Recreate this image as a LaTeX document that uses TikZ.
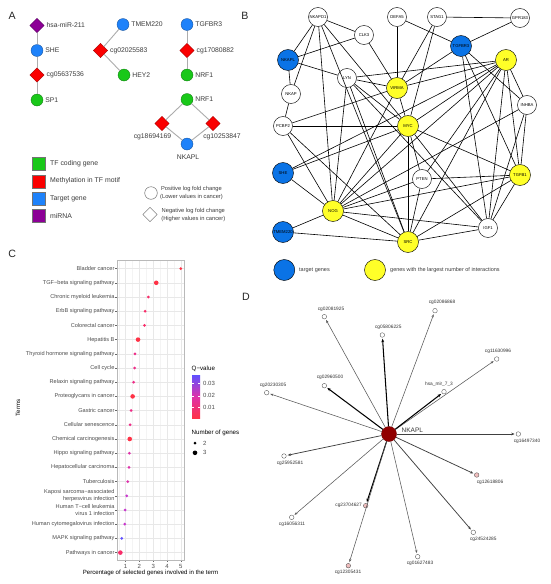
\documentclass[tikz,border=0pt]{standalone}
\usepackage{fontspec}
\setmainfont{Liberation Sans}
\usetikzlibrary{shapes.geometric,arrows.meta}
\definecolor{agreen}{RGB}{25,200,25}
\definecolor{ared}{RGB}{250,0,0}
\definecolor{ablue}{RGB}{30,130,250}
\definecolor{apurple}{RGB}{140,0,150}
\definecolor{bblue}{RGB}{10,115,230}
\definecolor{byellow}{RGB}{255,255,40}
\definecolor{dred}{RGB}{145,0,0}
\definecolor{dpink}{RGB}{240,190,190}
\definecolor{qA}{RGB}{255,50,70}
\definecolor{qB}{RGB}{248,45,105}
\definecolor{qC}{RGB}{238,45,135}
\definecolor{qD}{RGB}{222,50,170}
\definecolor{qE}{RGB}{200,55,205}
\definecolor{qF}{RGB}{95,80,255}
\definecolor{txt}{RGB}{60,60,60}
\tikzset{
  plet/.style={font=\fontsize{10.6}{12}\selectfont,text=black!85,inner sep=0pt},
  acirc/.style={circle,inner sep=0pt,minimum size=12pt,line width=0.3pt},
  adiam/.style={diamond,inner sep=0pt,minimum width=14.5pt,minimum height=14.5pt,fill=ared,draw=ared!65!black,line width=0.3pt},
  alab/.style={font=\fontsize{6.8}{8}\selectfont,inner sep=0.8pt,text=txt},
  aedge/.style={draw=gray!65,line width=0.9pt},
  asq/.style={rectangle,minimum size=13pt,inner sep=0pt,draw=black!55,line width=0.3pt},
  aleg/.style={font=\fontsize{6.9}{8}\selectfont,anchor=west,inner sep=0pt,text=txt},
  asmall/.style={font=\fontsize{5.75}{8}\selectfont,align=center,inner sep=0pt,text=txt},
  bw/.style={circle,draw=black,line width=0.45pt,fill=white,minimum size=19pt,inner sep=0pt,font=\fontsize{4.2}{4.2}\selectfont},
  bb/.style={bw,fill=bblue,minimum size=21pt},
  by/.style={bw,fill=byellow,minimum size=21pt},
  bedge/.style={draw=black,line width=0.6pt},
  bleg/.style={font=\fontsize{5.5}{6}\selectfont,anchor=west,inner sep=0pt,text=txt},
  ctext/.style={font=\fontsize{5.6}{7}\selectfont,anchor=east,inner sep=0pt,text=black!70,align=right},
  caxis/.style={font=\fontsize{6}{7}\selectfont,inner sep=0pt,text=black!70},
  ctitle/.style={font=\fontsize{6.1}{7}\selectfont,inner sep=0pt,text=black},
  ctick/.style={draw=black!60,line width=0.4pt},
  cgrid/.style={draw=gray!18,line width=0.5pt},
  cgridmin/.style={draw=gray!9,line width=0.3pt},
  cborder/.style={draw=gray!55,line width=0.5pt},
  dt/.style={circle,draw=gray!60!black,line width=0.35pt,fill=white,minimum size=4.6pt,inner sep=0pt},
  dp/.style={dt,fill=dpink},
  dlab/.style={font=\fontsize{4.8}{5}\selectfont,inner sep=0pt,text=black!80},
  dthin/.style={draw=gray!70!black,line width=0.55pt,-{Stealth[length=3.2pt,width=2.4pt]},shorten >=1.2pt},
  dmid/.style={draw=black!75,line width=0.75pt,-{Stealth[length=3.4pt,width=2.6pt]},shorten >=1.2pt},
  dthick/.style={draw=black,line width=1.05pt,-{Stealth[length=3.6pt,width=2.8pt]},shorten >=1.2pt},
}
\begin{document}
\begin{tikzpicture}[x=1pt,y=-1pt,label distance=1.2pt]
\useasboundingbox (0,0) rectangle (550,584);
\fill[white] (0,0) rectangle (550,584);

% panel letters
\node[plet] (pA) at (12.2,15.5) {A};
\node[plet] (pB) at (245,15.5) {B};
\node[plet] (pC) at (12.2,253.7) {C};
\node[plet] (pD) at (246,297.3) {D};

% ---------------- Panel A ----------------
\node[adiam,fill=apurple,draw=apurple!60!black,label={[alab]right:hsa-miR-211}] (mir) at (37,25.5) {};
\node[acirc,fill=ablue,draw=ablue!60!black,label={[alab]right:SHE}] (sheA) at (37,50.5) {};
\node[adiam,label={[alab]right:cg05637536}] (cgA) at (37,75) {};
\node[acirc,fill=agreen,draw=agreen!60!black,label={[alab]right:SP1}] (spA) at (37,100) {};
\draw[aedge] (mir) -- (sheA) -- (cgA) -- (spA);

\node[acirc,fill=ablue,draw=ablue!60!black,label={[alab]right:TMEM220}] (tmA) at (123,24.5) {};
\node[adiam,label={[alab]right:cg02025583}] (cgB) at (100.5,50.5) {};
\node[acirc,fill=agreen,draw=agreen!60!black,label={[alab]right:HEY2}] (heyA) at (124,75) {};
\draw[aedge] (tmA) -- (cgB) -- (heyA);

\node[acirc,fill=ablue,draw=ablue!60!black,label={[alab]right:TGFBR3}] (tgA) at (187,24.5) {};
\node[adiam,label={[alab]right:cg17080882}] (cgC) at (187,50.5) {};
\node[acirc,fill=agreen,draw=agreen!60!black,label={[alab]right:NRF1}] (nrA) at (187,75) {};
\draw[aedge] (tgA) -- (cgC) -- (nrA);

\node[acirc,fill=agreen,draw=agreen!60!black,label={[alab]right:NRF1}] (nrB) at (187,99.5) {};
\node[adiam] (cgD) at (162,123.5) {};
\node[adiam] (cgE) at (213,123.5) {};
\node[acirc,fill=ablue,draw=ablue!60!black] (nkA) at (187,144) {};
\node[alab] (cgDl) at (152.5,137) {cg18694169};
\node[alab] (cgEl) at (222,137) {cg10253847};
\node[alab] (nkAl) at (188,157.5) {NKAPL};
\draw[aedge] (nrB) -- (cgD) -- (nkA) -- (cgE) -- (nrB);

% legend A
\node[asq,fill=agreen] (lg1) at (38.4,163.7) {};
\node[asq,fill=ared] (lg2) at (38.4,181.2) {};
\node[asq,fill=ablue] (lg3) at (38.4,198.5) {};
\node[asq,fill=apurple] (lg4) at (38.4,215.5) {};
\node[aleg] (lt1) at (50,163.7) {TF coding gene};
\node[aleg] (lt2) at (50,181.2) {Methylation in TF motif};
\node[aleg] (lt3) at (50,198.5) {Target gene};
\node[aleg] (lt4) at (50,215.5) {miRNA};
\node[circle,draw=gray!70!black,line width=0.4pt,minimum size=12.6pt,inner sep=0pt] (lgc) at (151,193) {};
\node[diamond,draw=gray!70!black,line width=0.4pt,minimum width=14.5pt,minimum height=14.5pt,inner sep=0pt] (lgd) at (150,214.5) {};
\node[asmall] (ltc) at (191.5,192.7) {Positive log fold change\\(Lower values in cancer)};
\node[asmall] (ltd) at (193.3,215.3) {Negative log fold change\\(Higher values in cancer)};

% ---------------- Panel B ----------------
\node[bw] (b1) at (318,17) {NKAPD1};
\node[bw] (b2) at (364,35) {CLK3};
\node[bw] (b3) at (397,17) {DEFA5};
\node[bw] (b4) at (437,17) {STAG1};
\node[bw] (b5) at (520,18) {GPR183};
\node[bb] (b6) at (461,46) {TGFBR3};
\node[bb] (b7) at (288,60) {NKAPL};
\node[by] (b8) at (506,60) {AR};
\node[bw] (b9) at (347,78) {LYN};
\node[by] (b10) at (397,88) {VIRMA};
\node[bw] (b11) at (291,94) {NKAP};
\node[bw] (b12) at (527,105) {INHBA};
\node[bw] (b13) at (283,126) {PCBP2};
\node[by] (b14) at (408,126) {MYC};
\node[bb] (b15) at (283,173) {SHE};
\node[bw] (b16) at (422,179) {PTEN};
\node[by] (b17) at (520,175) {TGFB1};
\node[by] (b18) at (333,211) {NOG};
\node[bb] (b19) at (283,232) {TMEM220};
\node[bw] (b20) at (488,228) {IGF1};
\node[by] (b21) at (408,242) {SRC};
\foreach \a/\b in {1/2,1/7,1/11,1/18,1/21,1/14,2/7,2/10,3/10,3/6,4/5,4/10,4/14,5/6,
  6/10,6/12,6/20,6/17,7/9,7/11,11/13,9/8,9/10,9/18,9/21,9/14,9/20,
  8/10,8/14,8/18,8/21,8/16,8/20,8/17,8/12,8/15,13/10,13/14,13/18,13/21,
  10/14,10/18,14/17,14/20,14/16,14/18,14/21,14/15,15/18,19/18,19/21,
  18/16,18/17,18/20,18/21,18/12,16/17,16/21,17/21,17/12,17/20,20/21,12/20}
  \draw[bedge] (b\a) -- (b\b);
% legend B
\node[bb] (lb1) at (284.3,270) {};
\node[bleg] (lb1t) at (299,270) {target genes};
\node[by] (lb2) at (375,270) {};
\node[bleg] (lb2t) at (390,270) {genes with the largest number of interactions};

% ---------------- Panel C ----------------
\foreach \v in {0.5,1.5,2.5,3.5,4.5}{
  \pgfmathsetmacro\xx{111.8+13.8*\v}
  \draw[cgridmin] (\xx,260) -- (\xx,560);}
\foreach \v in {1,...,5}{
  \pgfmathsetmacro\xx{111.8+13.8*\v}
  \draw[cgrid] (\xx,260) -- (\xx,560);
  \draw[ctick] (\xx,560) -- (\xx,562.2);
  \node[caxis] (xt\v) at (\xx,566.3) {\v};}
\foreach \i/\lab/\v/\n/\c in {
  1/{Bladder cancer}/5.0/2/qA,
  2/{TGF−beta signaling pathway}/3.22/3/qA,
  3/{Chronic myeloid leukemia}/2.65/2/qB,
  4/{ErbB signaling pathway}/2.42/2/qB,
  5/{Colorectal cancer}/2.37/2/qB,
  6/{Hepatitis B}/1.9/3/qA,
  7/{Thyroid hormone signaling pathway}/1.68/2/qC,
  8/{Cell cycle}/1.65/2/qC,
  9/{Relaxin signaling pathway}/1.58/2/qC,
  10/{Proteoglycans in cancer}/1.51/3/qA,
  11/{Gastric cancer}/1.4/2/qC,
  12/{Cellular senescence}/1.33/2/qC,
  13/{Chemical carcinogenesis}/1.3/3/qA,
  14/{Hippo signaling pathway}/1.27/2/qD,
  15/{Hepatocellular carcinoma}/1.25/2/qD,
  16/{Tuberculosis}/1.15/2/qD,
  17/{Kaposi sarcoma−associated\\herpesvirus infection}/1.08/2/qE,
  18/{Human T−cell leukemia\\virus 1 infection}/0.96/2/qE,
  19/{Human cytomegalovirus infection}/0.94/2/qE,
  20/{MAPK signaling pathway}/0.72/2/qF,
  21/{Pathways in cancer}/0.62/3/qB}{
  \pgfmathsetmacro\yy{268.6+14.2*(\i-1)}
  \pgfmathsetmacro\xx{111.8+13.8*\v}
  \pgfmathsetmacro\rr{\n==2 ? 1.5 : 2.3}
  \draw[cgrid] (117.3,\yy) -- (183.8,\yy);
  \draw[ctick] (115.2,\yy) -- (117.3,\yy);
  \node[ctext] (tm\i) at (114.6,\yy) {\lab};
  \fill[\c] (\xx,\yy) circle[radius=\rr pt];}
\draw[cborder] (117.3,260) rectangle (183.8,560);
\node[ctitle] (cxt) at (150.5,573) {Percentage of selected genes involved in the term};
\node[ctitle,rotate=90] (cyt) at (18,408) {Terms};
% legend C
\node[ctitle,anchor=west,font=\fontsize{6.2}{7}\selectfont] (qv) at (191.5,369) {Q−value};
\shade[top color=qF,bottom color=qA,middle color=qD] (192,375) rectangle (200,418);
\foreach \q/\y in {0.03/383.3,0.02/395.7,0.01/407.3}{
  \draw[white,line width=0.4pt] (192,\y) -- (193.6,\y) (198.4,\y) -- (200,\y);
  \node[caxis,anchor=west] (q\y) at (203,\y) {\q};}
\node[ctitle,anchor=west,font=\fontsize{6.2}{7}\selectfont] (ng) at (191.5,433) {Number of genes};
\fill[black] (195,443) circle[radius=1.5pt];
\fill[black] (195,452.8) circle[radius=2.3pt];
\node[caxis,anchor=west] (ng2) at (203,443) {2};
\node[caxis,anchor=west] (ng3) at (203,452.8) {3};

% ---------------- Panel D ----------------
\node[circle,fill=dred,draw=dred!80!black,minimum size=15pt,inner sep=0pt] (nk) at (389,434) {};
\node[font=\fontsize{6.5}{7}\selectfont,anchor=west,inner sep=0pt,text=black!80] (nkl) at (401.5,430) {NKAPL};
\node[dt] (d1) at (324.3,316.7) {};  \node[dlab] (l1) at (331,309) {cg02081925};
\node[dt] (d2) at (382.3,335) {};    \node[dlab] (l2) at (388.3,327.6) {cg05806225};
\node[dt] (d3) at (435,310.7) {};    \node[dlab] (l3) at (442,302.7) {cg02086868};
\node[dt] (d4) at (496.7,359) {};    \node[dlab] (l4) at (498,351) {cg11630996};
\node[dt] (d5) at (324.3,385.7) {};  \node[dlab] (l5) at (330,377.7) {cg02960500};
\node[dt] (d6) at (444,391.7) {};    \node[dlab] (l6) at (439,384.3) {hsa\_mir\_7\_3};
\node[dt] (d7) at (266.7,392.7) {};  \node[dlab] (l7) at (273,385) {cg20230305};
\node[dt] (d8) at (518.3,434) {};    \node[dlab] (l8) at (527,441) {cg16497340};
\node[dt] (d9) at (284,456) {};      \node[dlab] (l9) at (290,463) {cg25952581};
\node[dp] (d10) at (476.7,475) {};   \node[dlab] (l10) at (490,482.5) {cg12618806};
\node[dp] (d11) at (365.7,505.7) {}; \node[dlab,anchor=east] (l11) at (362,505.7) {cg23704627};
\node[dt] (d12) at (291.7,517.3) {}; \node[dlab] (l12) at (292,524.2) {cg16056311};
\node[dt] (d13) at (473.3,532.3) {}; \node[dlab] (l13) at (483.3,539.4) {cg24524285};
\node[dt] (d14) at (417.7,556.7) {}; \node[dlab] (l14) at (420,563.5) {cg01627483};
\node[dp] (d15) at (348.3,565.7) {}; \node[dlab] (l15) at (348,572.8) {cg12305431};
\draw[dthin] (nk) -- (d1);
\draw[dthick] (nk) -- (d2);
\draw[dthin] (nk) -- (d3);
\draw[dthin] (nk) -- (d4);
\draw[dthick] (nk) -- (d5);
\draw[dthick] (nk) -- (d6);
\draw[dthin] (nk) -- (d7);
\draw[dmid] (nk) -- (d8);
\draw[dmid] (nk) -- (d9);
\draw[dmid] (nk) -- (d10);
\draw[dthick] (nk) -- (d11);
\draw[dthin] (nk) -- (d12);
\draw[dmid] (nk) -- (d13);
\draw[dthin] (nk) -- (d14);
\draw[dthin] (nk) -- (d15);
\end{tikzpicture}
\end{document}
